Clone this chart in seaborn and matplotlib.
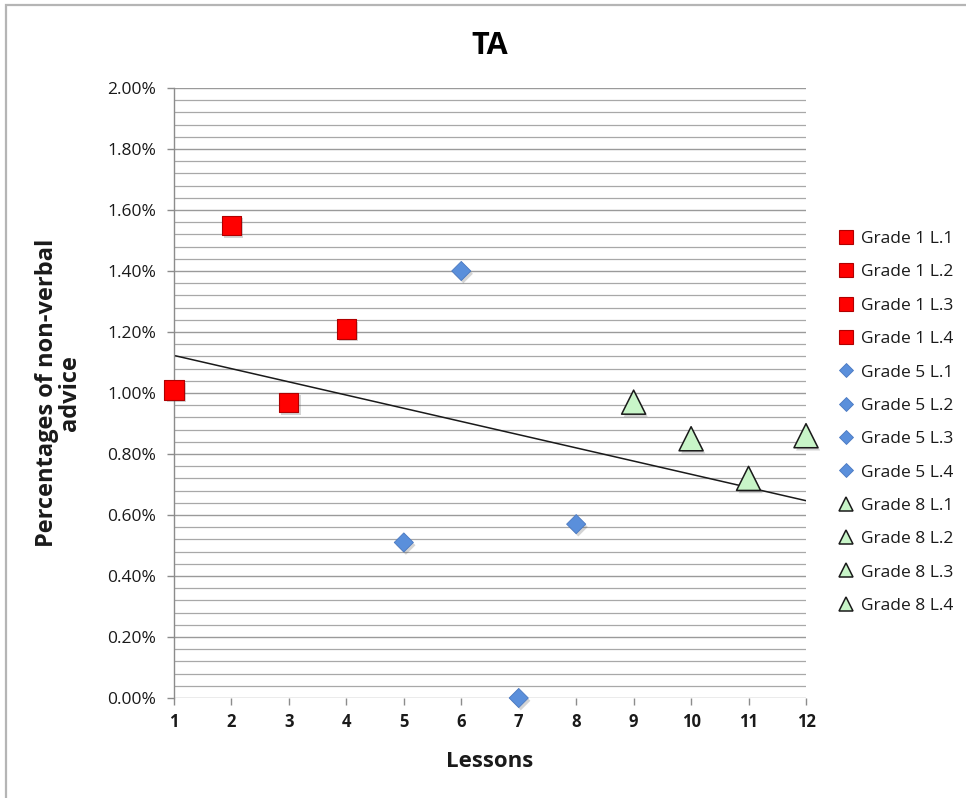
import numpy as np
import pandas as pd
import matplotlib
matplotlib.use("Agg")
import matplotlib.pyplot as plt
import matplotlib.patheffects as pe
from matplotlib.lines import Line2D
from matplotlib.patches import Rectangle
from matplotlib.ticker import MultipleLocator, FuncFormatter
import seaborn as sns

# ---- data ----
lessons = [1, 2, 3, 4, 5, 6, 7, 8, 9, 10, 11, 12]
values = [1.01, 1.55, 0.97, 1.21, 0.51, 1.40, 0.00, 0.57, 0.97, 0.85, 0.72, 0.86]  # percent
labels = ["Grade 1 L.1", "Grade 1 L.2", "Grade 1 L.3", "Grade 1 L.4",
          "Grade 5 L.1", "Grade 5 L.2", "Grade 5 L.3", "Grade 5 L.4",
          "Grade 8 L.1", "Grade 8 L.2", "Grade 8 L.3", "Grade 8 L.4"]
grades = ["Grade 1"] * 4 + ["Grade 5"] * 4 + ["Grade 8"] * 4
title = "TA"
xlabel = "Lessons"
ylabel = "Percentages of non-verbal\nadvice"

df = pd.DataFrame({"lesson": lessons, "value": values, "label": labels, "grade": grades})

sns.set_theme(style="white")
plt.rcParams["font.family"] = ["Open Sans", "DejaVu Sans"]

styles = {
    "Grade 1": dict(marker="s", color="#FF0000", edge="#B00000", s=190, lw=0.8, legend_ms=10),
    "Grade 5": dict(marker="D", color="#5A8FDB", edge="#4A78C0", s=95, lw=0.6, legend_ms=7),
    "Grade 8": dict(marker="^", color="#C8F5C8", edge="#1A1A1A", s=300, lw=1.1, legend_ms=10),
}

fig = plt.figure(figsize=(9.66, 7.98), dpi=100)
ax = fig.add_axes([174 / 966, 1 - 698 / 798, (806 - 174) / 966, (698 - 88) / 798])

ax.set_xlim(1, 12)
ax.set_ylim(0, 2.0)

# grid
ax.yaxis.set_major_locator(MultipleLocator(0.2))
ax.yaxis.set_minor_locator(MultipleLocator(0.04))
ax.xaxis.set_major_locator(MultipleLocator(1))
ax.grid(which="major", axis="y", color="#9A9A9A", linewidth=1.0, zorder=0)
ax.grid(which="minor", axis="y", color="#A8A8A8", linewidth=0.9, zorder=0)
ax.grid(axis="x", visible=False)
ax.set_axisbelow(True)

# trendline (linear fit of all points)
slope, intercept = np.polyfit(lessons, values, 1)
xs = np.array([lessons[0], lessons[-1]])
ax.plot(xs, slope * xs + intercept, color="#1A1A1A", linewidth=1.1, zorder=2)

handles = []
shadow = [pe.SimplePatchShadow(offset=(1.5, -2), alpha=0.25, shadow_rgbFace="#555555"), pe.Normal()]
for g, st in styles.items():
    sub = df[df["grade"] == g]
    sns.scatterplot(data=sub, x="lesson", y="value", ax=ax, marker=st["marker"],
                    color=st["color"], edgecolor=st["edge"], linewidth=st["lw"],
                    s=st["s"], legend=False, zorder=3, clip_on=False)
    ax.collections[-1].set_path_effects(shadow)
    for lab in sub["label"]:
        handles.append(Line2D([], [], linestyle="none", marker=st["marker"],
                              markerfacecolor=st["color"], markeredgecolor=st["edge"],
                              markeredgewidth=st["lw"], markersize=st["legend_ms"], label=lab))

# axes styling
for side in ["top", "right", "bottom"]:
    ax.spines[side].set_visible(False)
ax.spines["left"].set_color("#8C8C8C")
ax.spines["left"].set_linewidth(1.0)
ax.tick_params(axis="y", which="major", direction="out", length=5, width=1, color="#8C8C8C",
               left=True, labelsize=12.5, labelcolor="#1A1A1A", pad=8)
ax.tick_params(axis="y", which="minor", left=False)
ax.tick_params(axis="x", which="major", direction="out", length=5, width=1, color="#8C8C8C",
               bottom=True, labelsize=12, labelcolor="#1A1A1A", pad=6)
ax.yaxis.set_major_formatter(FuncFormatter(lambda v, p: f"{v:.2f}%"))
for t in ax.get_xticklabels():
    t.set_fontweight("bold")

ax.set_xlabel(xlabel, fontsize=16, fontweight="bold", color="#1A1A1A")
ax.set_ylabel(ylabel, fontsize=17, fontweight="bold", color="#1A1A1A", linespacing=0.95)
ax.xaxis.set_label_coords(0.5, (698 - 751) / 610)
ax.yaxis.set_label_coords((82 - 174) / 632, 0.5)

fig.text(490 / 966, 1 - 46 / 798, title, ha="center", va="center",
         fontsize=22, fontweight="bold", color="#000000")

leg = fig.legend(handles=handles, loc="upper left", bbox_to_anchor=(838 / 966, 1 - 231 / 798),
                 frameon=False, fontsize=12.5, labelspacing=0.99, handlelength=0.9,
                 handletextpad=0.45, borderaxespad=0, borderpad=0)
for t in leg.get_texts():
    t.set_color("#1A1A1A")

# outer chart border (cropped at right/bottom)
fig.patches.append(Rectangle((6 / 966, -0.05), 1.1, 1.05 - 4.5 / 798, transform=fig.transFigure,
                             fill=False, edgecolor="#B5B5B5", linewidth=1.6))

fig.savefig("out.png", dpi=100)
